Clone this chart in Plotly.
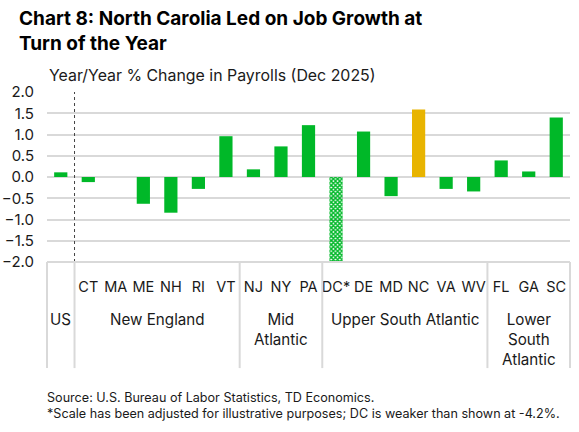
import plotly.graph_objects as go

categories = ["US", "CT", "MA", "ME", "NH", "RI", "VT", "NJ", "NY", "PA",
              "DC*", "DE", "MD", "NC", "VA", "WV", "FL", "GA", "SC"]
values = [0.11, -0.12, 0.0, -0.63, -0.84, -0.28, 0.96, 0.18, 0.72, 1.22,
          -4.2, 1.07, -0.45, 1.59, -0.28, -0.34, 0.39, 0.13, 1.40]
groups = ["US", "New England", "Mid<br>Atlantic", "Upper South Atlantic", "Lower<br>South<br>Atlantic"]
group_members = [["US"], ["CT", "MA", "ME", "NH", "RI", "VT"], ["NJ", "NY", "PA"],
                 ["DC*", "DE", "MD", "NC", "VA", "WV"], ["FL", "GA", "SC"]]
ytick_vals = [2.0, 1.5, 1.0, 0.5, 0.0, -0.5, -1.0, -1.5, -2.0]

GREEN = "#00B828"
YELLOW = "#E8B400"
GRID = "#D9D9D9"
TEXT = "#1A1A1A"
FONT = "Inter"

colors = [YELLOW if c == "NC" else GREEN for c in categories]
shapes_pat = ["x" if c == "DC*" else "" for c in categories]

fig = go.Figure()
fig.add_trace(go.Bar(
    x=categories, y=values,
    marker=dict(color=colors, line=dict(width=0),
                pattern=dict(shape=shapes_pat, fgcolor=GREEN, bgcolor="white",
                             size=3, solidity=0.72, fillmode="replace")),
    width=0.48,
    hoverinfo="x+y",
))

shapes = []
# dotted separator between US and states
shapes.append(dict(type="line", xref="x", yref="paper", x0=0.5, x1=0.5, y0=0, y1=1,
                   line=dict(color="#444444", width=1, dash="dot")))
# category box below axis
ybot = -0.624
shapes.append(dict(type="line", xref="paper", yref="paper", x0=0, x1=1, y0=0, y1=0,
                   line=dict(color=GRID, width=2)))
shapes.append(dict(type="line", xref="paper", yref="paper", x0=0, x1=0, y0=0, y1=ybot,
                   line=dict(color=GRID, width=2)))
shapes.append(dict(type="line", xref="paper", yref="paper", x0=1, x1=1, y0=0, y1=ybot,
                   line=dict(color=GRID, width=2)))
idx = 0
annotations = []
for g, mem in zip(groups, group_members):
    start = idx
    end = idx + len(mem) - 1
    idx += len(mem)
    if idx < len(categories):
        shapes.append(dict(type="line", xref="x", yref="paper", x0=end + 0.5, x1=end + 0.5,
                           y0=0, y1=ybot, line=dict(color=GRID, width=2)))
    annotations.append(dict(text=g, xref="x", yref="paper", x=(start + end) / 2, y=-0.268,
                            xanchor="center", yanchor="top", showarrow=False,
                            font=dict(family=FONT, size=15.2, color=TEXT)))

annotations.append(dict(text="<b>Chart 8: North Carolia Led on Job Growth at<br>Turn of the Year</b>",
                        xref="paper", yref="paper", x=-0.057, y=1.512, xanchor="left", yanchor="top",
                        align="left", showarrow=False,
                        font=dict(family=FONT, size=19, color="#000000")))
annotations.append(dict(text="Year/Year % Change in Payrolls (Dec 2025)",
                        xref="paper", yref="paper", x=0.0, y=1.028, xanchor="left", yanchor="bottom",
                        align="left", showarrow=False,
                        font=dict(family=FONT, size=15.9, color=TEXT)))
annotations.append(dict(text="Source: U.S. Bureau of Labor Statistics, TD Economics.<br>"
                             "*Scale has been adjusted for illustrative purposes; DC is weaker than shown at -4.2%.",
                        xref="paper", yref="paper", x=-0.004, y=-0.74, xanchor="left", yanchor="top",
                        align="left", showarrow=False,
                        font=dict(family=FONT, size=12.6, color=TEXT)))

fig.update_layout(
    width=579, height=432,
    margin=dict(l=47, r=9, t=92, b=170),
    paper_bgcolor="white", plot_bgcolor="white",
    showlegend=False,
    bargap=0.5,
    font=dict(family=FONT, color=TEXT),
    shapes=shapes,
    annotations=annotations,
    xaxis=dict(type="category", categoryorder="array", categoryarray=categories,
               tickmode="array", tickvals=categories[1:], ticktext=categories[1:],
               showgrid=False, zeroline=False, showline=False, ticks="",
               tickfont=dict(family=FONT, size=14.5, color=TEXT), ticklabelstandoff=14,
               range=[-0.5, len(categories) - 0.5], automargin=False),
    yaxis=dict(range=[-2.0, 2.0], tickmode="array", tickvals=ytick_vals,
               tickformat=".1f", showgrid=True, gridcolor=GRID, gridwidth=2,
               zeroline=True, zerolinecolor=GRID, zerolinewidth=2, showline=False,
               ticks="", tickfont=dict(family=FONT, size=15, color=TEXT),
               ticklabelstandoff=12, automargin=False),
)
fig.write_html("out.html", config={"displayModeBar": False},
               post_script="document.body.style.margin='0';")
